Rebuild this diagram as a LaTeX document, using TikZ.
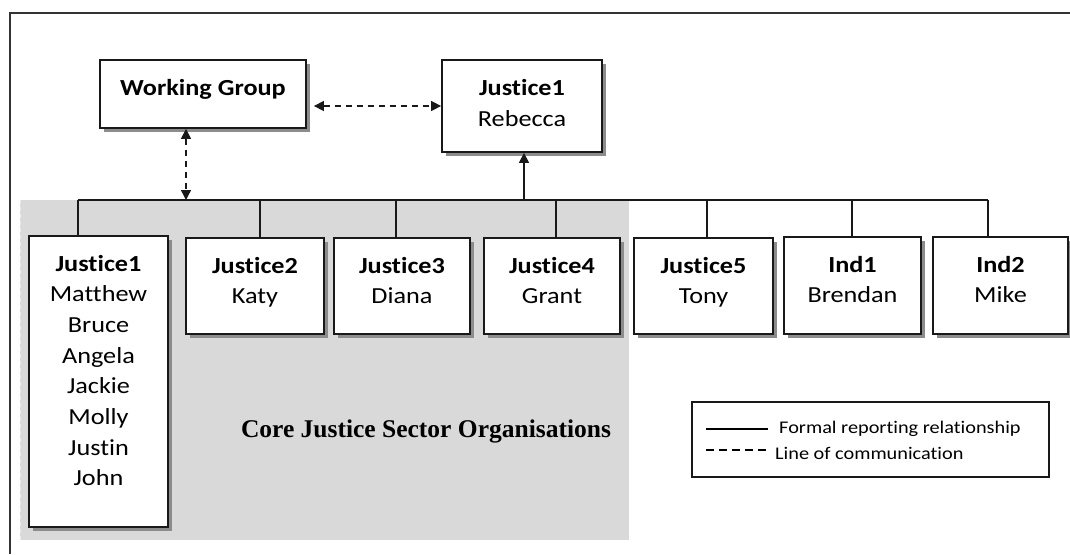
\documentclass[tikz,border=0pt]{standalone}
\usepackage{fontspec}
\setmainfont{Carlito}[FakeStretch=1.14, Ligatures=NoCommon]
\newfontfamily\titlefont{Liberation Serif}
\usetikzlibrary{arrows.meta,shadows}

\tikzset{
  orgbox/.style={draw=black!90, line width=1.8pt, fill=white, inner sep=0pt,
    drop shadow={shadow xshift=4pt, shadow yshift=-4pt, fill=black!45, opacity=1}},
  % multi-line text is placed by the baseline of its last line
  boxtext/.style={inner sep=0pt, align=center, anchor=base,
    font=\fontsize{23}{30.7}\selectfont},
  legtext/.style={inner sep=0pt, anchor=base west, font=\fontsize{17.8}{22}\selectfont},
  report/.style={draw=black!90, line width=1.4pt},
  comm/.style={draw=black!90, line width=1.4pt, dash pattern=on 6pt off 5pt},
  tip/.style={-{Triangle[length=10pt,width=10pt]}},
  tips/.style={{Triangle[length=10pt,width=10pt]}-{Triangle[length=10pt,width=10pt]}}
}

\begin{document}
\begin{tikzpicture}[x=1pt, y=-1pt]
  \useasboundingbox (0,0) rectangle (1070,554);

  % outer frame (only the left and top edges lie inside the page)
  \draw[black!80, line width=2pt] (10,554) -- (10,13) -- (1070,13);

  % shaded area holding the core justice organisations
  \fill[black!15] (20,200) rectangle (629,540);
  \draw[black!8, line width=1pt, dash pattern=on 4pt off 3pt] (20,540) -- (20,200);

  % top level
  \node[orgbox, minimum width=206pt, minimum height=68pt] (wg) at (203,94) {};
  \node[boxtext] (wgt) at (203,95.5) {\textbf{Working Group}};
  \node[orgbox, minimum width=160pt, minimum height=92pt] (r1) at (522,106) {};
  \node[boxtext] (r1t) at (522,126.2) {\textbf{Justice1}\\Rebecca};

  % second level
  \node[orgbox, minimum width=139pt, minimum height=291pt] (j1) at (98.5,381.5) {};
  \node[boxtext] (j1t) at (98.5,485.9) {\textbf{Justice1}\\Matthew\\Bruce\\Angela\\Jackie\\Molly\\Justin\\John};
  \node[orgbox, minimum width=138pt, minimum height=96pt] (j2) at (255,286) {};
  \node[boxtext] (j2t) at (255,303.7) {\textbf{Justice2}\\Katy};
  \node[orgbox, minimum width=136pt, minimum height=96pt] (j3) at (402,286) {};
  \node[boxtext] (j3t) at (402,303.7) {\textbf{Justice3}\\Diana};
  \node[orgbox, minimum width=136pt, minimum height=96pt] (j4) at (552,286) {};
  \node[boxtext] (j4t) at (552,303.7) {\textbf{Justice4}\\Grant};
  \node[orgbox, minimum width=139pt, minimum height=96pt] (j5) at (703.5,286) {};
  \node[boxtext] (j5t) at (703.5,303.7) {\textbf{Justice5}\\Tony};
  \node[orgbox, minimum width=137pt, minimum height=97pt] (i1) at (852.5,285.5) {};
  \node[boxtext] (i1t) at (852.5,302.7) {\textbf{Ind1}\\Brendan};
  \node[orgbox, minimum width=135pt, minimum height=97pt] (i2) at (1000.5,285.5) {};
  \node[boxtext] (i2t) at (1000.5,302.7) {\textbf{Ind2}\\Mike};

  % junctions on the reporting bus
  \coordinate (b1) at (78,200);
  \coordinate (b2) at (260,200);
  \coordinate (b3) at (396,200);
  \coordinate (b4) at (556,200);
  \coordinate (b5) at (707,200);
  \coordinate (b6) at (852,200);
  \coordinate (b7) at (988,200);
  \coordinate (wgb) at (186,200);
  \coordinate (rb) at (524,200);

  % formal reporting lines
  \draw[report] (b1) -- (b7);
  \draw[report] (b1) -- (b1 |- j1.north);
  \draw[report] (b2) -- (b2 |- j2.north);
  \draw[report] (b3) -- (b3 |- j3.north);
  \draw[report] (b4) -- (b4 |- j4.north);
  \draw[report] (b5) -- (b5 |- j5.north);
  \draw[report] (b6) -- (b6 |- i1.north);
  \draw[report] (b7) -- (b7 |- i2.north);
  \draw[report, tip] (rb) -- (rb |- r1.south);

  % lines of communication
  \draw[comm, tips, shorten <=7pt] (wg.east |- r1.west) -- (r1.west);
  \draw[comm, tips] (wgb |- wg.south) -- (wgb);

  % caption of the shaded area
  \node[inner sep=0pt, anchor=base, font=\titlefont\bfseries\fontsize{25.5}{30}\selectfont] (core) at (426,437) {Core Justice Sector Organisations};

  % legend
  \node[draw=black!90, line width=1.6pt, minimum width=357pt, minimum height=75pt, inner sep=0pt] (leg) at (870.5,439.5) {};
  \coordinate (la1) at (706,429);
  \coordinate (la2) at (768,429);
  \coordinate (lb1) at (706,450);
  \coordinate (lb2) at (768,450);
  \draw[black, line width=1.2pt] (la1) -- (la2);
  \draw[black, line width=1.2pt, dash pattern=on 8pt off 5pt] (lb1) -- (lb2);
  \node[legtext] (lta) at (779,433) {Formal reporting relationship};
  \node[legtext] (ltb) at (775,459) {Line of communication};
\end{tikzpicture}
\end{document}
